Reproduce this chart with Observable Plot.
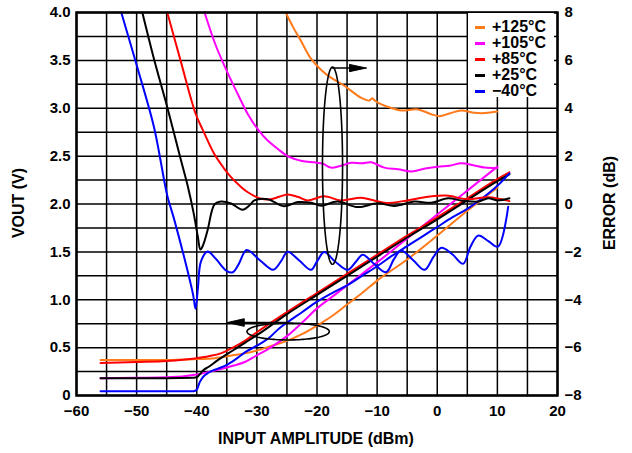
<!DOCTYPE html>
<html><head><meta charset="utf-8">
<script src="https://cdn.jsdelivr.net/npm/d3@7"></script>
<script src="https://cdn.jsdelivr.net/npm/@observablehq/plot@0.6"></script>
<style>
body{margin:0;background:#fff;font-family:"Liberation Sans",Arial,sans-serif;}
#wrap{position:relative;width:632px;height:453px;overflow:hidden;}
#legend{position:absolute;left:468px;top:13px;width:86px;height:84px;background:#fff;}
.item{position:absolute;left:0;height:16px;font-weight:bold;font-size:16px;line-height:16px;color:#000;white-space:nowrap;}
.dash{position:absolute;left:7px;top:7px;width:10px;height:3px;}
.lab{position:absolute;left:24px;top:0;}
.title{position:absolute;font-weight:bold;font-size:16px;color:#000;white-space:nowrap;}
</style></head><body>
<div id="wrap"><div id="chart"></div><div id="legend"></div>
<div class="title" id="xt">INPUT AMPLITUDE (dBm)</div>
<div class="title" id="yl">VOUT (V)</div>
<div class="title" id="yr">ERROR (dB)</div>
</div>
<script>
// ---- series labels / colours ----
const temps = ["+125°C", "+105°C", "+85°C", "+25°C", "\u221240°C"];
const colors = ["#ff7a1a", "#ff00ff", "#ff0000", "#000000", "#0000ff"];

// ---- VOUT (V) vs input amplitude (dBm) ----
const vout125 = [[-56,0.37],[-50,0.37],[-45,0.37],[-40,0.38],[-37,0.39],[-34,0.42],[-32,0.44],[-30,0.47],[-27.5,0.52],[-25,0.57],[-22.5,0.64],[-20,0.73],[-17.5,0.83],[-15,0.95],[-12.5,1.07],[-10,1.20],[-5,1.42],[0,1.67],[5,1.93],[10,2.17]];
const vout105 = [[-56,0.18],[-50,0.185],[-45,0.19],[-40,0.22],[-37,0.26],[-34,0.31],[-32,0.35],[-30,0.42],[-28,0.49],[-25,0.62],[-22.5,0.76],[-20,0.91],[-17.5,1.03],[-15,1.15],[-10,1.39],[-5,1.64],[0,1.89],[5,2.14],[10,2.39]];
const vout85 = [[-56,0.34],[-50,0.35],[-45,0.36],[-40,0.39],[-38,0.41],[-36,0.44],[-34,0.50],[-32,0.57],[-30,0.66],[-25,0.87],[-20,1.07],[-15,1.27],[-10,1.47],[-5,1.67],[0,1.86],[5,2.06],[10,2.26],[12,2.33]];
const vout25 = [[-56,0.18],[-45,0.18],[-40.5,0.185],[-40,0.19],[-39.5,0.22],[-39,0.26],[-38,0.30],[-36.5,0.37],[-34,0.47],[-32,0.55],[-30,0.63],[-25,0.85],[-20,1.05],[-15,1.25],[-10,1.45],[-5,1.65],[0,1.84],[5,2.04],[10,2.24],[12,2.31]];
const voutM40 = [[-56,0.045],[-45,0.045],[-40.5,0.045],[-40,0.06],[-39.5,0.14],[-39,0.19],[-38,0.24],[-36.5,0.28],[-35,0.32],[-33.5,0.38],[-32,0.45],[-30,0.52],[-28,0.60],[-26.3,0.70],[-25,0.76],[-22.5,0.87],[-20,0.98],[-17.5,1.07],[-15,1.15],[-12.5,1.25],[-10,1.35],[-7.5,1.46],[-5,1.56],[-2.5,1.66],[0,1.76],[2.5,1.86],[5,1.95],[7.5,2.06],[10,2.19],[12,2.32]];

// ---- Error (dB) vs input amplitude (dBm) ----
const err125 = [[-25.2,8.0],[-24,7.4],[-22.7,6.83],[-21,6.07],[-19.3,5.6],[-17.7,5.28],[-15.4,4.93],[-12.7,4.44],[-11.3,4.32],[-10.8,4.42],[-10.3,4.3],[-9.3,4.16],[-7.5,4.0],[-6,3.91],[-3.2,3.95],[-1,3.75],[0.4,3.67],[2,3.78],[4,3.91],[6.2,3.81],[8,3.8],[10,3.86]];
const err105 = [[-38.7,8],[-36.8,6.6],[-34.9,5.5],[-33,4.5],[-31.5,3.75],[-29.9,3.14],[-28.2,2.65],[-26.5,2.3],[-24.9,2.0],[-22.5,1.8],[-20.4,1.74],[-19,1.68],[-17.7,1.52],[-16,1.6],[-14.3,1.72],[-12.5,1.7],[-11,1.74],[-8.8,1.52],[-6.5,1.45],[-4.3,1.36],[-2,1.48],[0.1,1.56],[2,1.6],[4,1.7],[6,1.62],[7.9,1.52],[10,1.5]];
const err85 = [[-44.9,8],[-42.7,6.0],[-40.2,3.78],[-39,3.1],[-37.1,2.1],[-35.5,1.5],[-34.3,1.12],[-32.8,0.75],[-31.5,0.49],[-29.3,0.22],[-27.7,0.2],[-26.3,0.3],[-24.9,0.4],[-23.2,0.3],[-21.6,0.15],[-18.8,0.32],[-16,0.15],[-12.7,0.26],[-10.5,0.15],[-8.5,0.04],[-5,0.15],[-1.5,0.3],[1.5,0.35],[5,0.2],[8.5,0.28],[12,0.12]];
const err25 = [[-49.05,8],[-47,5.95],[-44.9,4.04],[-42.7,1.9],[-41.5,0.75],[-40.5,-0.4],[-39.8,-1.4],[-39.4,-1.9],[-39,-1.75],[-38.2,-1.1],[-37.5,-0.3],[-37,0],[-36,0.1],[-34.3,0.02],[-32.4,-0.24],[-31.2,-0.05],[-30.4,0.15],[-28.2,0.2],[-25.5,-0.09],[-23.2,0.08],[-21,0.05],[-19.3,-0.07],[-16.6,0.1],[-13.2,-0.13],[-9.9,0.03],[-7.1,-0.08],[-3.8,0.1],[-1,0.05],[1.8,0.24],[4,0.15],[6.8,0.1],[8.5,0.24],[10,0.15],[12,0.24]];
const errM40 = [[-52.55,8],[-49.9,5.72],[-47.1,3.2],[-44.9,0.35],[-43.8,-0.6],[-41.55,-2.77],[-40.6,-3.8],[-40.2,-4.38],[-39.8,-3.5],[-39.3,-2.4],[-38.2,-1.98],[-36.8,-2.3],[-35,-2.8],[-34,-2.85],[-33,-2.5],[-31.7,-1.92],[-29.5,-2.35],[-27.3,-2.75],[-26,-2.4],[-24.9,-2.0],[-23,-2.35],[-21,-2.75],[-20,-2.4],[-18.8,-2.01],[-17,-2.4],[-14.9,-2.75],[-13.5,-2.4],[-12.4,-2.12],[-10.5,-2.5],[-8.5,-2.85],[-7.2,-2.3],[-6,-1.94],[-4,-2.35],[-2.1,-2.75],[-0.6,-2.2],[0.7,-1.83],[2.5,-2.1],[4.3,-2.5],[5.5,-1.8],[6.8,-1.32],[8.5,-1.55],[10.1,-1.78],[11.8,-0.11]];

// ---- axis ticks ----
const xTicks = [-60,-50,-40,-30,-20,-10,0,10,20];
const xGridTicks = [-60,-55,-50,-45,-40,-35,-30,-25,-20,-15,-10,-5,0,5,10,15,20];
const voutTicks = [0,0.5,1,1.5,2,2.5,3,3.5,4];
const yGridTicks = [0,0.25,0.5,0.75,1,1.25,1.5,1.75,2,2.25,2.5,2.75,3,3.25,3.5,3.75,4];
const errTicks = [-8,-6,-4,-2,0,2,4,6,8];

// ---- annotations (data units) ----
const errEllipse = {cx: -17.42, cy: 2.40, rx: 1.67, ry: 1.03};
const voutEllipse = {cx: -24.8, cy: 0.668, rx: 6.85, ry: 0.088};
const errArrow = {x1: -17.4, x2: -11.8, y: 3.42, head: 2.8, half: 0.038};
const voutArrow = {x1: -24.8, x2: -34.9, y: 0.762, head: 2.8, half: 0.04};

const minus = s => String(s).replace("-", "\u2212");
const errToV = d => (d + 8) / 4;
const vouts = [vout125, vout105, vout85, vout25, voutM40];
const errs = [err125, err105, err85, err25, errM40];

function ellipsePts(e) {
  return d3.range(0, 121).map(i => {
    const t = i / 120 * 2 * Math.PI;
    return [e.cx + e.rx * Math.cos(t), e.cy + e.ry * Math.sin(t)];
  });
}
function headPts(a) {
  const dir = Math.sign(a.x2 - a.x1);
  return [[a.x2, a.y], [a.x2 - dir * a.head, a.y + a.half], [a.x2 - dir * a.head, a.y - a.half], [a.x2, a.y]];
}

const marks = [
  Plot.gridX(xGridTicks, {stroke: "#000", strokeOpacity: 1, strokeWidth: 1.5}),
  Plot.gridY(yGridTicks, {stroke: "#000", strokeOpacity: 1, strokeWidth: 1.5}),
];
vouts.forEach((s, i) => marks.push(Plot.line(s, {x: d => d[0], y: d => d[1], stroke: colors[i], strokeWidth: 2, curve: "monotone-x"})));
errs.forEach((s, i) => marks.push(Plot.line(s, {x: d => d[0], y: d => errToV(d[1]), stroke: colors[i], strokeWidth: 2, curve: "catmull-rom"})));
[errEllipse, voutEllipse].forEach(e => marks.push(Plot.line(ellipsePts(e), {x: d => d[0], y: d => d[1], stroke: "#000", strokeWidth: 1.6, curve: "linear"})));
[errArrow, voutArrow].forEach(a => {
  const dir = Math.sign(a.x2 - a.x1);
  marks.push(Plot.line([[a.x1, a.y], [a.x2 - dir * a.head, a.y]], {x: d => d[0], y: d => d[1], stroke: "#000", strokeWidth: 1.6}));
  marks.push(Plot.line(headPts(a), {x: d => d[0], y: d => d[1], stroke: "#000", strokeWidth: 1, fill: "#000"}));
});
marks.push(
  Plot.axisX({ticks: xTicks, tickSize: 0, tickPadding: 10, tickFormat: d => minus(d), label: null}),
  Plot.axisY({anchor: "left", ticks: voutTicks, tickSize: 0, tickPadding: 6, tickFormat: d => d === 0 ? "0" : d.toFixed(1), label: null}),
  Plot.axisY({anchor: "right", ticks: errTicks.map(errToV), tickSize: 0, tickPadding: 7, tickFormat: v => minus(Math.round(v * 4 - 8)), label: null}),
  Plot.frame({stroke: "#000", strokeWidth: 2.5})
);

const chart = Plot.plot({
  width: 632, height: 453,
  marginLeft: 76, marginRight: 75, marginTop: 12, marginBottom: 58,
  x: {domain: [-60, 20]},
  y: {domain: [0, 4]},
  style: {fontFamily: "'Liberation Sans', Arial, sans-serif", fontSize: "15px", fontWeight: "bold", color: "#000", background: "#fff"},
  marks
});
document.getElementById("chart").appendChild(chart);

// legend
const lg = document.getElementById("legend");
const rowTop = [4, 20, 36, 52, 68];
temps.forEach((t, i) => {
  const it = document.createElement("div");
  it.className = "item";
  it.style.top = (rowTop[i] + 2) + "px";
  it.innerHTML = `<div class="dash" style="background:${colors[i]}"></div><div class="lab">${t}</div>`;
  lg.appendChild(it);
});

// titles
const xt = document.getElementById("xt");
xt.style.left = (316 - xt.offsetWidth / 2) + "px"; xt.style.top = "430px";
const yl = document.getElementById("yl");
yl.style.left = (19 - yl.offsetWidth / 2) + "px"; yl.style.top = (203 - yl.offsetHeight / 2) + "px"; yl.style.transform = "rotate(-90deg)";
const yr = document.getElementById("yr");
yr.style.left = (610 - yr.offsetWidth / 2) + "px"; yr.style.top = (203 - yr.offsetHeight / 2) + "px"; yr.style.transform = "rotate(-90deg)";
</script>
</body></html>
